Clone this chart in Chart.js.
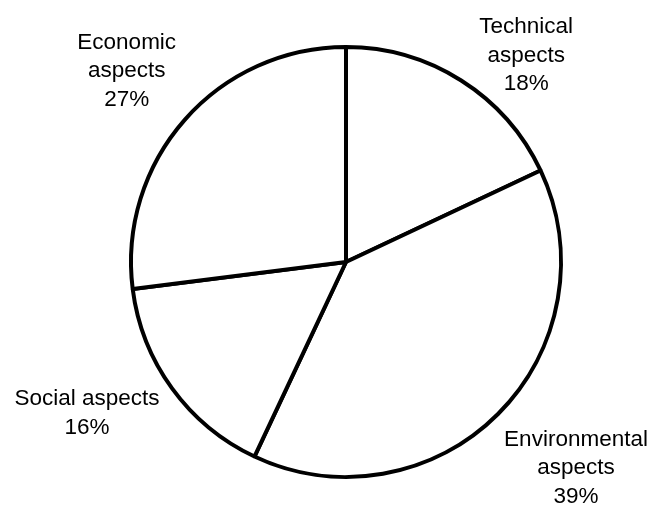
<!DOCTYPE html>
<html>
<head>
<meta charset="utf-8">
<script src="https://cdn.jsdelivr.net/npm/chart.js@4"></script>
<style>
  body { margin: 0; background: #fff; }
  #wrap { width: 653px; height: 507px; }
</style>
</head>
<body>
<div id="wrap"><canvas id="myChart" width="653" height="507"></canvas></div>
<script>
const categories = ['Technical aspects', 'Environmental aspects', 'Social aspects', 'Economic aspects'];
const shares = [18, 39, 16, 27];
// how each label is broken into lines
const labelLines = [
  ['Technical', 'aspects'],
  ['Environmental', 'aspects'],
  ['Social aspects'],
  ['Economic', 'aspects'],
];

// nudges of each label from the outer middle of its slice
const labelNudge = [[65, -25], [78, 54], [-85, 25], [-58, -49]];

const outsideLabels = {
  id: 'outsideLabels',
  afterDraw(chart) {
    let c = chart.ctx;
    let arcs = chart.getDatasetMeta(0).data;
    c.save();
    c.font = '22.5px "Liberation Sans", Arial, sans-serif';
    c.fillStyle = '#000';
    c.textAlign = 'center';
    c.textBaseline = 'middle';
    arcs.forEach((arc, i) => {
      let p = arc.getProps(['x', 'y', 'startAngle', 'endAngle', 'outerRadius']);
      let mid = (p.startAngle + p.endAngle) / 2;
      let x = p.x + Math.cos(mid) * p.outerRadius + labelNudge[i][0];
      let y = p.y + Math.sin(mid) * p.outerRadius + labelNudge[i][1];
      let lines = labelLines[i].concat([shares[i] + '%']);
      let lh = 28.5;
      lines.forEach((t, j) => {
        c.fillText(t, x, y + (j - (lines.length - 1) / 2) * lh);
      });
    });
    c.restore();
  }
};

new Chart(document.getElementById('myChart'), {
  type: 'pie',
  data: {
    labels: categories,
    datasets: [{
      data: shares,
      backgroundColor: '#fff',
      borderColor: '#000',
      borderWidth: 4,
    }]
  },
  options: {
    responsive: false,
    animation: false,
    radius: 215,
    layout: { padding: { left: 39, right: 0, top: 17, bottom: 0 } },
    plugins: {
      legend: { display: false },
      tooltip: { enabled: false },
    }
  },
  plugins: [outsideLabels]
});
</script>
</body>
</html>
